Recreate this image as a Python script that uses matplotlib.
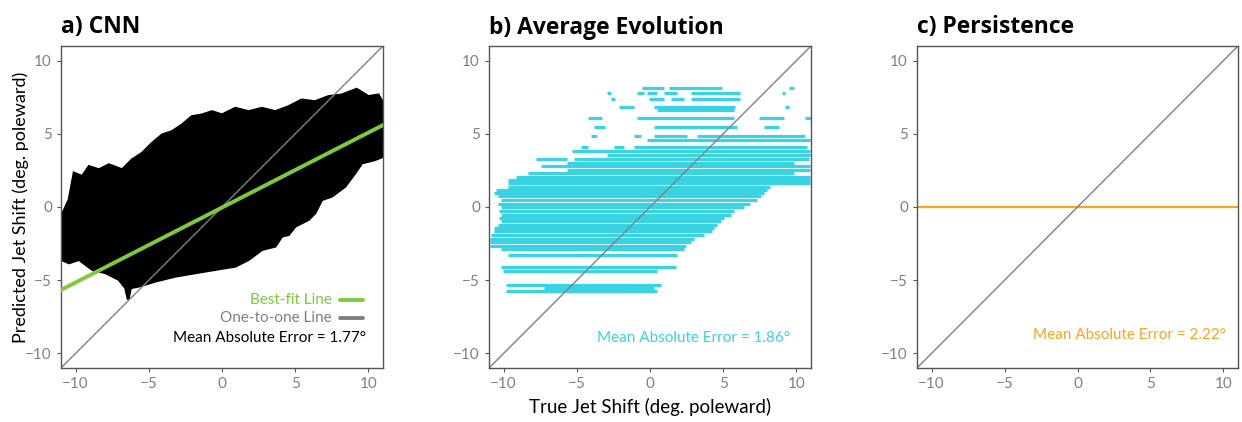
import matplotlib
matplotlib.use("Agg")
import matplotlib.pyplot as plt
import numpy as np

# ---------------- data ----------------
axis_limits = (-11, 11)
tick_values = [-10, -5, 0, 5, 10]

# a) CNN: envelope of the dense cloud of predictions
cnn_cloud_x = [-10.95, -10.45, -10.11, -9.55, -9.09, -8.41, -7.73, -6.82, -6.14, -5.45,
               -4.77, -4.09, -3.41, -2.73, -2.05, -1.36, -0.68, 0.0, 0.91, 1.82,
               2.73, 3.64, 4.55, 5.45, 6.36, 7.27, 8.18, 9.2, 10.0, 10.68,
               11.0, 11.0, 10.45, 9.55, 9.09, 8.41, 7.5, 6.82, 6.36, 5.91,
               5.0, 4.55, 4.09, 3.64, 2.73, 1.82, 0.91, -0.45, -1.82, -3.18,
               -4.55, -5.68, -6.25, -6.41, -6.59, -7.05, -7.95, -8.86, -9.77, -10.45,
               -10.95]
cnn_cloud_y = [-0.6, 0.5, 2.32, 2.09, 2.77, 2.55, 2.89, 2.55, 3.23, 3.68,
               4.36, 4.93, 5.16, 5.61, 6.18, 6.3, 6.52, 6.3, 6.75, 6.52,
               6.75, 6.52, 6.86, 7.32, 7.2, 7.55, 7.66, 8.05, 7.55, 7.66,
               7.1, 3.45, 3.23, 3.0, 2.32, 1.41, 0.73, 0.5, -0.41, -0.86,
               -1.32, -1.89, -2.0, -2.68, -2.91, -3.59, -4.05, -4.27, -4.5, -4.73,
               -5.07, -5.41, -5.52, -6.32, -5.52, -4.95, -4.5, -4.27, -3.59, -3.82,
               -3.6]
fit_slope = 0.512
fit_intercept = -0.035
cnn_mae = 1.77

# b) Average Evolution: horizontal runs of predictions at discrete levels
avg_y = [8.15, 8.15, 8.15,
         7.8, 7.8, 7.8, 7.8, 7.8, 7.8,
         7.4, 7.4, 7.4, 7.4,
         6.8, 6.8, 6.8,
         6.6,
         6.05, 6.05, 6.05, 6.05,
         5.45, 5.45, 5.45,
         4.85, 4.85, 4.85, 4.85,
         4.55,
         4.1, 4.1, 4.1,
         3.8, 3.57, 3.27, 3.27, 3.0, 2.77, 2.5, 2.3, 2.05, 1.85, 1.62, 1.4, 1.18,
         0.95, 0.72, 0.5, 0.23, 0.0, -0.3, -0.52, -0.75, -0.98, -1.2, -1.43, -1.66,
         -1.89, -2.18, -2.41, -2.64, -2.86, -3.25, -4.09, -4.35, -5.36, -5.52, -5.75]
avg_x0 = [-0.52, 1.30, 9.48,
          -2.91, -0.86, -0.18, 0.95, 2.77, 9.02,
          -2.68, -0.07, 1.41, 2.77,
          -2.11, 0.27, 9.25,
          0.5,
          -4.27, -0.86, 7.43, 10.6,
          -3.82, 0.27, 7.77,
          -4.05, -1.09, 0.27, 3.23,
          -0.18,
          -4.73, -2.45, -1.09,
          -5.3, -2.91, -7.8, -5.18, -5.64, -7.45, -5.64, -8.36, -9.16, -9.73, -9.73, -9.73, -10.52,
          -10.64, -10.41, -10.18, -10.41, -10.18, -10.3, -10.18, -10.3, -10.18, -10.41, -10.64, -10.64,
          -10.86, -10.95, -10.95, -10.95, -10.18, -9.73, -10.18, -10.07, -9.84, -7.23, -9.84]
avg_x1 = [0.95, 4.93, 9.82,
          -2.64, -0.41, 0.5, 1.86, 6.18, 9.25,
          -2.41, 0.95, 2.32, 6.18,
          -1.09, 5.84, 9.48,
          5.73,
          -3.25, 5.73, 9.14, 11.0,
          -3.09, 5.95, 8.8,
          -3.59, -0.64, 2.55, 10.6,
          10.95,
          -4.27, -1.77, 10.73,
          10.95, 10.95, -5.64, 10.84, 9.82, 10.95, 10.95, 9.82, 10.95, 10.95, 10.95, 8.23, 8.0,
          7.77, 7.55, 7.32, 6.86, 6.41, 5.73, 5.5, 5.05, 4.82, 4.59, 4.36, 4.25,
          3.68, 3.0, 2.77, 2.43, 2.32, 1.86, 1.75, 0.5, 0.73, 0.27, 0.5]
avg_mae = 1.86

# c) Persistence: prediction is always zero shift
persistence_value = 0.0
persistence_mae = 2.22

# ---------------- style ----------------
GREEN = "#7DCB3A"
CYAN = "#3AD3E3"
ORANGE = "#FFA31A"
GRAY = "#808080"
FONT = ["Lato", "DejaVu Sans"]
TITLE_FONT = ["Open Sans", "DejaVu Sans"]
plt.rcParams["font.family"] = FONT

W, H = 1242, 422
fig = plt.figure(figsize=(W / 100, H / 100), dpi=100)

def px_axes(left, right, top, bottom):
    return fig.add_axes([left / W, 1 - bottom / H, (right - left) / W, (bottom - top) / H])

axes = [px_axes(61, 383, 46, 368), px_axes(489, 811, 46, 368), px_axes(917, 1238, 46, 368)]
titles = ["a) CNN", "b) Average Evolution", "c) Persistence"]

for ax, t in zip(axes, titles):
    ax.set_xlim(*axis_limits)
    ax.set_ylim(*axis_limits)
    ax.set_xticks(tick_values)
    ax.set_yticks(tick_values)
    ax.tick_params(colors="#555555", labelcolor="#808080", labelsize=11, length=3, width=0.8)
    for s in ax.spines.values():
        s.set_color("#555555")
        s.set_linewidth(1.0)
    ax.set_title(t, loc="left", fontsize=16.5, fontweight="bold", family=TITLE_FONT, pad=9)

one = np.array(axis_limits)

# a) CNN
ax = axes[0]
ax.fill(cnn_cloud_x, cnn_cloud_y, color="black", lw=2.0, zorder=1)
ax.plot(one, one, color=GRAY, lw=1.0, zorder=2)
ax.plot(one, fit_slope * one + fit_intercept, color=GREEN, lw=2.8, zorder=3)
ax.text(7.5, -6.36, "Best-fit Line", color=GREEN, ha="right", va="center", fontsize=11)
ax.plot([8.06, 9.63], [-6.36, -6.36], color=GREEN, lw=2.8, solid_capstyle="round")
ax.text(7.5, -7.58, "One-to-one Line", color=GRAY, ha="right", va="center", fontsize=11)
ax.plot([8.06, 9.63], [-7.58, -7.58], color=GRAY, lw=2.8, solid_capstyle="round")
ax.text(9.83, -8.95, f"Mean Absolute Error = {cnn_mae:.2f}°", color="black",
        ha="right", va="center", fontsize=11)
ax.set_ylabel("Predicted Jet Shift (deg. poleward)", fontsize=13)
ax.yaxis.set_label_coords(-0.10, 0.5)

# b) Average Evolution
ax = axes[1]
ax.hlines(avg_y, avg_x0, avg_x1, color=CYAN, lw=2.3, zorder=1)
ax.plot(one, one, color=GRAY, lw=1.0, zorder=2)
ax.text(9.56, -8.95, f"Mean Absolute Error = {avg_mae:.2f}°", color=CYAN,
        ha="right", va="center", fontsize=11)
ax.set_xlabel("True Jet Shift (deg. poleward)", fontsize=13.5, labelpad=5)

# c) Persistence
ax = axes[2]
ax.axhline(persistence_value, color=ORANGE, lw=1.6, zorder=1)
ax.plot(one, one, color=GRAY, lw=1.0, zorder=2)
ax.text(10.17, -8.75, f"Mean Absolute Error = {persistence_mae:.2f}°", color=ORANGE,
        ha="right", va="center", fontsize=11)

fig.savefig("out.png", dpi=100)
